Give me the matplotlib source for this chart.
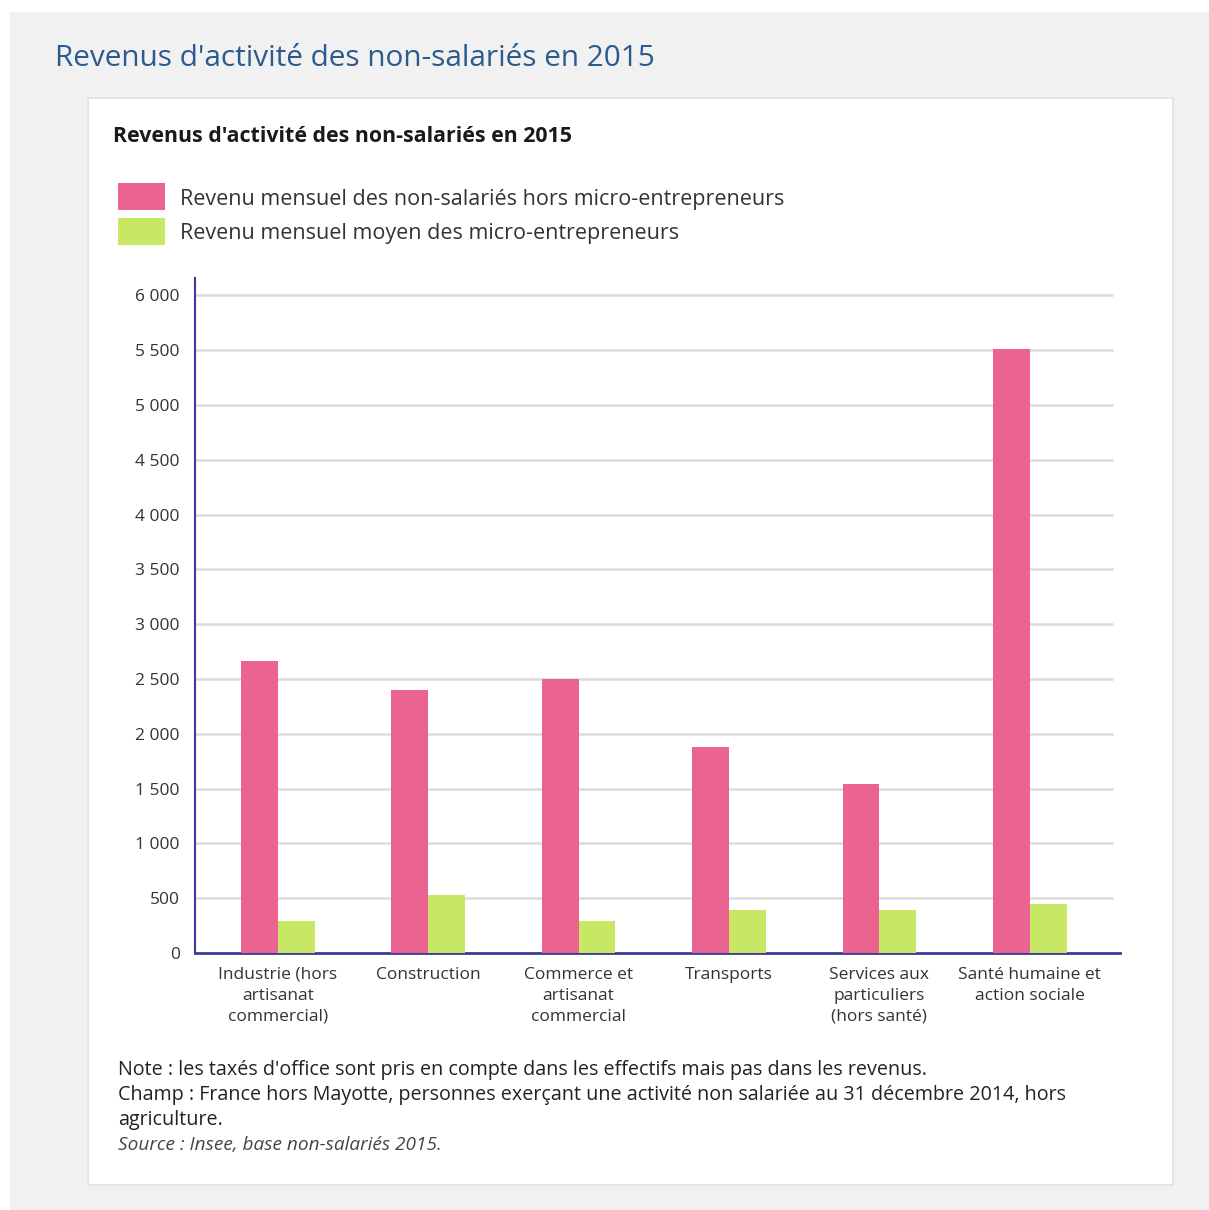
import numpy as np
import matplotlib
matplotlib.use("Agg")
import matplotlib.pyplot as plt
from matplotlib.patches import Rectangle
from matplotlib.ticker import FuncFormatter

plt.rcParams['font.family'] = ['Open Sans', 'DejaVu Sans']

# Données
categories = ["Industrie (hors\nartisanat\ncommercial)", "Construction",
              "Commerce et\nartisanat\ncommercial", "Transports",
              "Services aux\nparticuliers\n(hors santé)", "Santé humaine et\naction sociale"]
hors_micro = [2660, 2400, 2500, 1880, 1540, 5510]
micro = [290, 530, 290, 390, 390, 450]
yticks = [0, 500, 1000, 1500, 2000, 2500, 3000, 3500, 4000, 4500, 5000, 5500, 6000]
series_labels = ["Revenu mensuel des non-salariés hors micro-entrepreneurs",
                 "Revenu mensuel moyen des micro-entrepreneurs"]
notes = ["Note : les taxés d'office sont pris en compte dans les effectifs mais pas dans les revenus.",
         "Champ : France hors Mayotte, personnes exerçant une activité non salariée au 31 décembre 2014, hors",
         "agriculture."]
source = "Source : Insee, base non-salariés 2015."

W, H = 1209, 1210
pink = "#ea6391"
green = "#c8e865"
navy = "#3b3b9c"

fig = plt.figure(figsize=(W / 100, H / 100), dpi=100)
fig.patch.set_facecolor("white")

def px(x, y):
    return x / W, 1 - y / H

# fond gris + carte blanche
fig.patches.append(Rectangle((10 / W, 0), 1 - 10 / W, 1 - 12 / H, transform=fig.transFigure,
                             facecolor="#f1f1f1", edgecolor="none", zorder=-5))
fig.patches.append(Rectangle((88 / W, 1 - 1185 / H), (1173 - 88) / W, (1185 - 98) / H,
                             transform=fig.transFigure, facecolor="white",
                             edgecolor="#e2e2e2", linewidth=1.2, zorder=-4))

fig.text(*px(55, 58), "Revenus d'activité des non-salariés en 2015", fontsize=21.4,
         color="#2b5b8e", va="center", ha="left")
fig.text(*px(113, 137), "Revenus d'activité des non-salariés en 2015", fontsize=15.4,
         fontweight="bold", color="#1a1a1a", va="center", ha="left")

# légende
for i, (lab, col) in enumerate(zip(series_labels, [pink, green])):
    y0 = 183 + i * 35
    fig.patches.append(Rectangle((118 / W, 1 - (y0 + 27) / H), 47 / W, 27 / H,
                                 transform=fig.transFigure, facecolor=col, edgecolor="none"))
    fig.text(*px(180, y0 + 16), lab, fontsize=15.5, color="#333333", va="center", ha="left")

# graphique
ax = fig.add_axes([195 / W, 1 - 953 / H, (1120 - 195) / W, (953 - 278) / H])
x = np.arange(len(categories))
bw = 0.245
ax.bar(x - bw / 2, hors_micro, width=bw, color=pink, zorder=3)
ax.bar(x + bw / 2, micro, width=bw, color=green, zorder=3)

ax.set_xlim(-0.55, len(categories) - 0.4)
ax.set_ylim(0, 6159)
ax.set_yticks(yticks)
ax.yaxis.set_major_formatter(FuncFormatter(lambda v, p: f"{int(v):,}".replace(",", " ")))
for v in yticks[1:]:
    ax.axhline(v, xmin=0, xmax=(1112 - 195) / (1120 - 195), color="#dcdcdc",
               linewidth=1.8, zorder=0)
for s in ["top", "right"]:
    ax.spines[s].set_visible(False)
ax.spines["left"].set_color(navy)
ax.spines["bottom"].set_color(navy)
ax.spines["left"].set_linewidth(1.5)
ax.spines["bottom"].set_linewidth(2)
ax.tick_params(axis="y", length=0, pad=11, labelsize=12.5, labelcolor="#333333")
ax.tick_params(axis="x", length=0, pad=10, labelsize=12.5, labelcolor="#333333")
ax.set_xticks(x)
ax.set_xticklabels(categories, linespacing=1.42)

for i, t in enumerate(notes):
    fig.text(*px(118, 1070 + i * 25), t, fontsize=14.2, color="#222222", va="center", ha="left")
fig.text(*px(118, 1145), source, fontsize=13.7, color="#444444", style="italic",
         va="center", ha="left")

fig.savefig("out.png", dpi=100)
